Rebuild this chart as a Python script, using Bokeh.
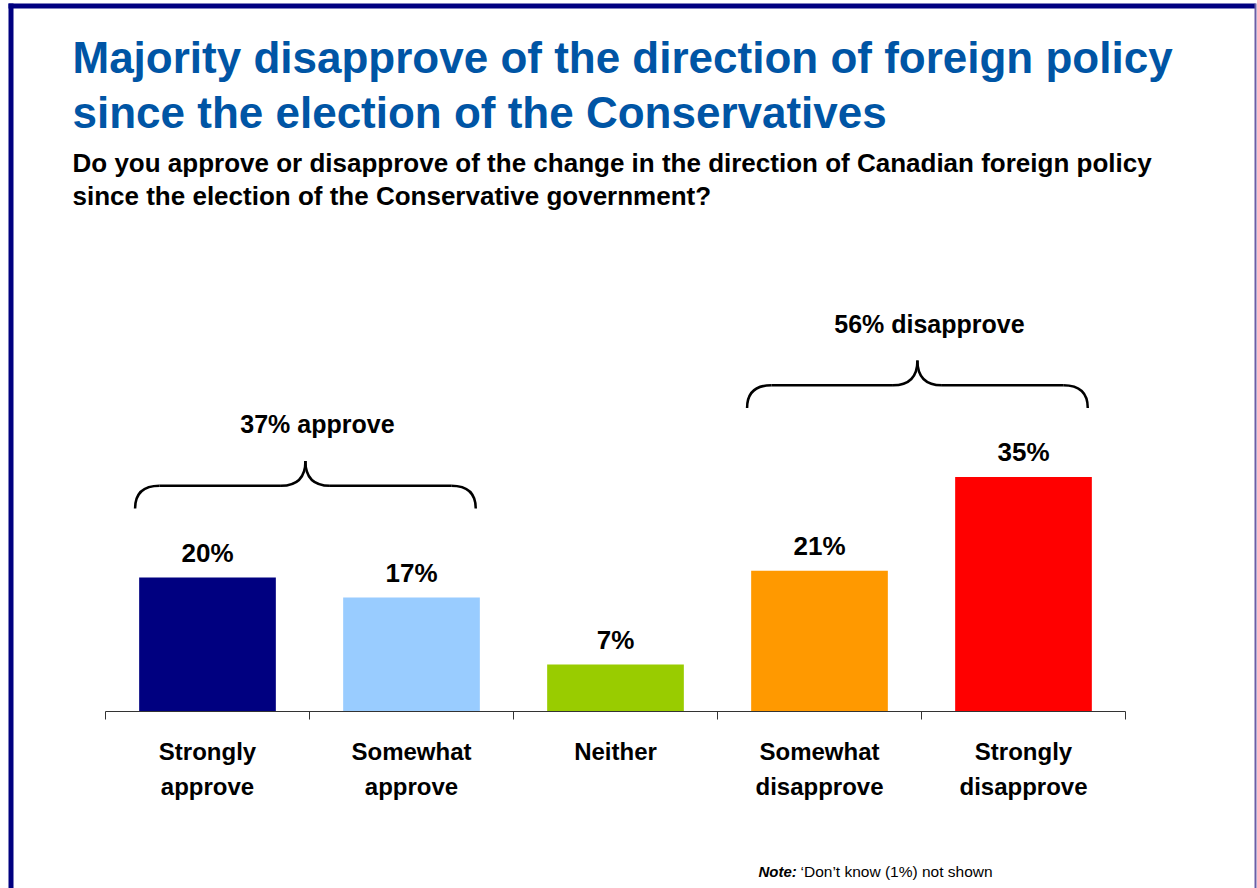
from bokeh.plotting import figure
from bokeh.models import Range1d, FixedTicker, Label, BoxAnnotation
from bokeh.embed import file_html
from bokeh.resources import INLINE
from bokeh.core.properties import value

# ---------------- data ----------------
categories = ["Strongly approve", "Somewhat approve", "Neither",
              "Somewhat disapprove", "Strongly disapprove"]
tick_labels = ["Strongly\napprove", "Somewhat\napprove", "Neither",
               "Somewhat\ndisapprove", "Strongly\ndisapprove"]
values = [20, 17, 7, 21, 35]
bar_colors = ["#000080", "#99CCFF", "#99CC00", "#FF9900", "#FF0000"]
group_names = ["37% approve", "56% disapprove"]
group_members = [[0, 1], [3, 4]]

title_lines = ["Majority disapprove of the direction of foreign policy",
               "since the election of the Conservatives"]
subtitle_lines = ["Do you approve or disapprove of the change in the direction of Canadian foreign policy",
                  "since the election of the Conservative government?"]
note_bold = "Note:"
note_rest = "\u2018Don\u2019t know (1%) not shown"

# ---------------- layout constants ----------------
W, H = 1257, 888
X0 = 105       # pixel of the left edge of the first category
CW = 204       # pixels per category
Y0 = 711       # pixel of the 0% baseline
PP = 6.7       # pixels per percentage point
FONT = "Liberation Sans"


def dx(px):
    return (px - X0) / CW


def dy(py):
    return (Y0 - py) / PP


p = figure(width=W, height=H, output_backend="svg", toolbar_location=None,
           x_range=Range1d(dx(0), dx(W)), y_range=Range1d(dy(H), dy(0)),
           y_axis_location=None, min_border=0)
p.grid.visible = False
p.outline_line_color = None
p.background_fill_color = "white"
p.border_fill_color = "white"

centers = [i + 0.5 for i in range(len(categories))]
BAR_W = 0.67

p.vbar(x=centers, top=values, width=BAR_W, bottom=0, color=bar_colors, line_color=None)

p.text(x=centers, y=values, text=[f"{v}%" for v in values], text_align="center",
       text_baseline="alphabetic", y_offset=-25, text_font=value(FONT),
       text_font_style="bold", text_font_size="26px", text_color="black")

# braces
for name, members in zip(group_names, group_members):
    L = members[0] + 0.5 - BAR_W / 2 - 0.02
    R = members[-1] + 0.5 + BAR_W / 2 - 0.02
    M = (L + R) / 2
    gmax = max(values[i] for i in members)
    end = gmax + 10.3
    hor = end + 3.4
    apex = hor + 3.7
    cx = 0.12
    p.quadratic(x0=[L, M - cx, M, R - cx], y0=[end, hor, apex, hor],
                x1=[L + cx, M, M + cx, R], y1=[hor, apex, hor, end],
                cx=[L, M, M, R], cy=[hor, hor, hor, hor],
                line_color="black", line_width=2.5)
    p.segment(x0=[L + cx, M + cx], y0=[hor, hor], x1=[M - cx, R - cx], y1=[hor, hor],
              line_color="black", line_width=2.5)
    p.text(x=[M], y=[apex + 5.5], text=[name], text_align="center", x_offset=12,
           text_baseline="alphabetic", text_font=value(FONT), text_font_style="bold",
           text_font_size="25px", text_color="black")

# axis (drawn at the 0% line, inside the full-canvas frame)
ax = p.xaxis[0]
ax.fixed_location = 0
ax.ticker = FixedTicker(ticks=centers, minor_ticks=list(range(len(categories) + 1)))
ax.major_label_overrides = {c: t for c, t in zip(centers, tick_labels)}
ax.bounds = (0, len(categories))
ax.axis_line_color = "#333333"
ax.axis_line_width = 1
ax.major_tick_line_color = None
ax.major_tick_out = 0
ax.major_tick_in = 0
ax.minor_tick_line_color = "#333333"
ax.minor_tick_out = 8
ax.minor_tick_in = 0
ax.major_label_text_font = FONT
ax.major_label_text_font_style = "bold"
ax.major_label_text_font_size = "24px"
ax.major_label_text_color = "black"
ax.major_label_text_line_height = 1.3
ax.major_label_standoff = 18

# titles
for line, base in zip(title_lines, [57, 112]):
    p.add_layout(Label(x=dx(72), y=dy(base), text=line, text_font=FONT,
                       text_font_style="bold", text_font_size="44px",
                       text_color="#0055A5", text_baseline="alphabetic"))
for line, base in zip(subtitle_lines, [162, 195]):
    p.add_layout(Label(x=dx(72), y=dy(base), text=line, text_font=FONT,
                       text_font_style="bold", text_font_size="26px",
                       text_color="black", text_baseline="alphabetic"))

p.add_layout(Label(x=dx(758), y=dy(871), text=note_bold, text_font=FONT,
                   text_font_style="bold italic", text_font_size="15px",
                   text_color="black", text_baseline="alphabetic"))
p.add_layout(Label(x=dx(800), y=dy(871), text=note_rest, text_font=FONT,
                   text_font_size="15.5px", text_color="black",
                   text_baseline="alphabetic"))

# frame border
p.add_layout(BoxAnnotation(left=dx(8), right=dx(13), top=dy(3), bottom=dy(H + 20),
                           fill_color="#000080", fill_alpha=1, line_color=None))
p.add_layout(BoxAnnotation(left=dx(8), right=dx(1255), top=dy(3), bottom=dy(8),
                           fill_color="#000080", fill_alpha=1, line_color=None))
p.add_layout(BoxAnnotation(left=dx(1254), right=dx(1256), top=dy(3), bottom=dy(H + 20),
                           fill_color="#6B5FA7", fill_alpha=1, line_color=None))

open("out.html", "w").write(file_html(p, INLINE))
